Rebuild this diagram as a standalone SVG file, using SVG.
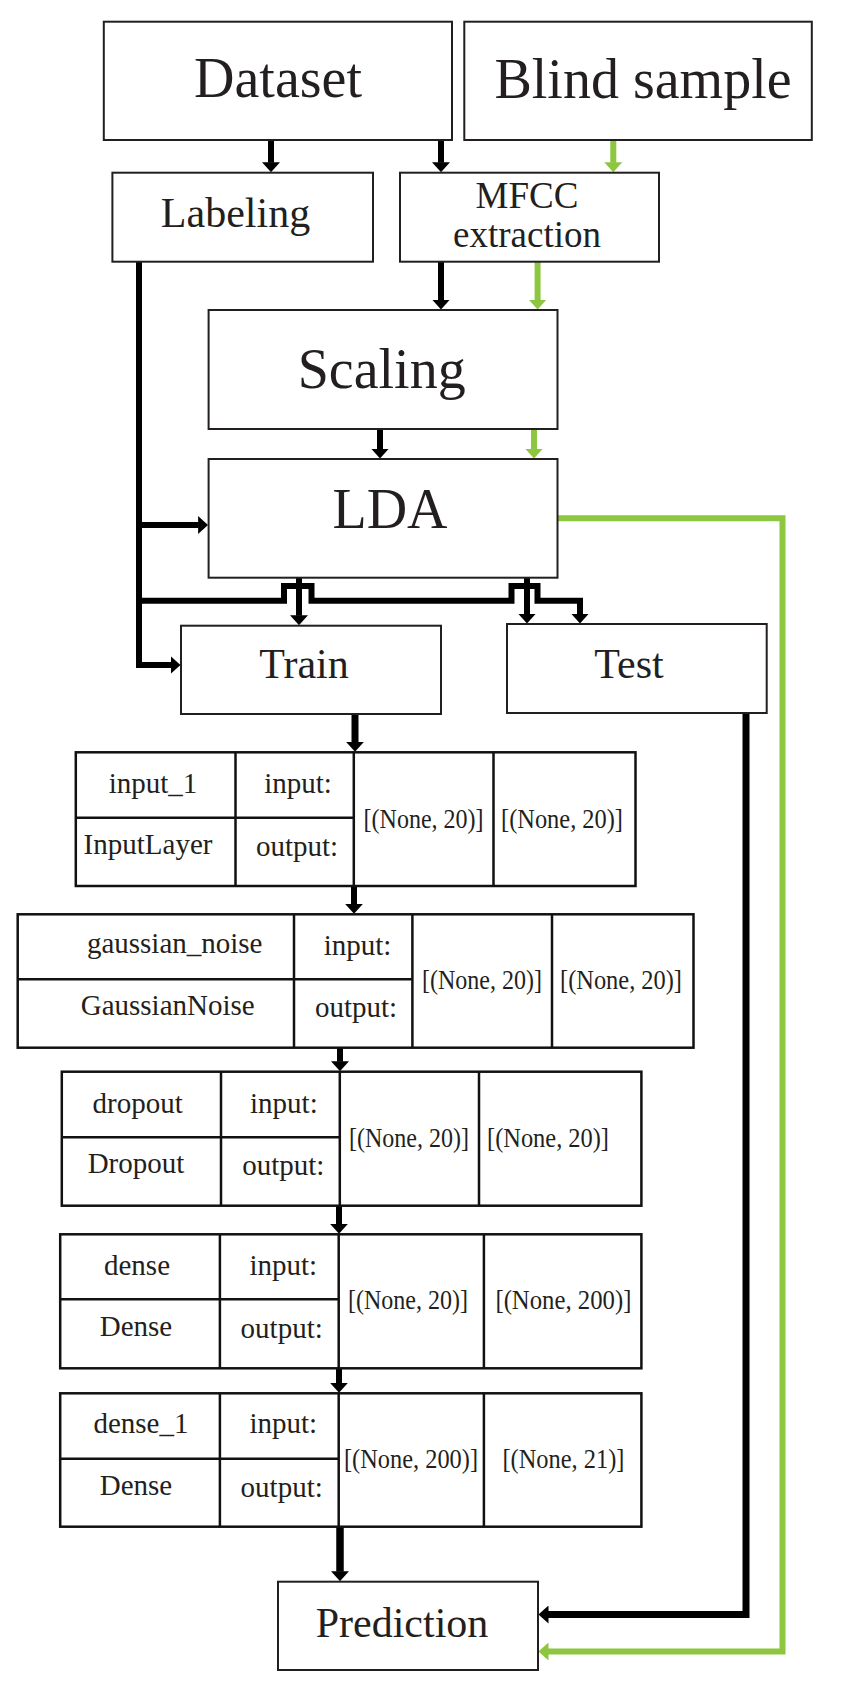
<svg xmlns="http://www.w3.org/2000/svg" width="844" height="1691" viewBox="0 0 844 1691">
<style>
.box{fill:#fff;stroke:#231f20;stroke-width:2}
.tb{fill:#fff;stroke:#111;stroke-width:2.5}
.tl{fill:none;stroke:#111;stroke-width:2.5}
.t{font-family:"Liberation Serif","Times New Roman",serif;fill:#231f20;text-anchor:middle}
.big{font-size:56px}
.mid{font-size:42px}
.mf{font-size:37px}
.s{font-size:29px}
.br{font-size:27px}
.k{fill:none;stroke:#000;stroke-width:6}
.g{fill:none;stroke:#8dc63f;stroke-width:6}
</style>
<defs>
<marker id="ak" viewBox="0 0 10 18" refX="0.5" refY="9" markerWidth="10" markerHeight="18" markerUnits="userSpaceOnUse" orient="auto"><path d="M0,0 L10,9 L0,18 z" fill="#000"/></marker>
<marker id="ag" viewBox="0 0 10 18" refX="0.5" refY="9" markerWidth="10" markerHeight="18" markerUnits="userSpaceOnUse" orient="auto"><path d="M0,0 L10,9 L0,18 z" fill="#8dc63f"/></marker>
</defs>
<rect width="844" height="1691" fill="#fff"/>

<g id="connectors">
<path class="k" d="M271,140 V162.7" marker-end="url(#ak)"/>
<path class="k" d="M441,140 V162.7" marker-end="url(#ak)"/>
<path class="g" d="M613.3,140 V162.7" marker-end="url(#ag)"/>
<path class="k" d="M441,261.7 V300" marker-end="url(#ak)"/>
<path class="g" d="M537.6,261.7 V300" marker-end="url(#ag)"/>
<path class="k" d="M380,429 V449" marker-end="url(#ak)"/>
<path class="g" d="M534,429 V449" marker-end="url(#ag)"/>
<path class="k" d="M139,261.7 V665 H171" marker-end="url(#ak)"/>
<path class="k" d="M139,525 H198.6" marker-end="url(#ak)"/>
<path class="k" d="M139,600.7 H284 V586 H311.5 V600.7 H511.5 V586 H537.5 V600.7 H580 V614" marker-end="url(#ak)"/>
<path class="k" d="M299,577.7 V615.7" marker-end="url(#ak)"/>
<path class="k" d="M527,577.7 V614" marker-end="url(#ak)"/>
<path class="g" d="M557.5,518.3 H782.5 V1651.5 H548" marker-end="url(#ag)"/>
<path class="k" style="stroke-width:7" d="M746,713 V1614.5 H548" marker-end="url(#ak)"/>
<path class="k" style="stroke-width:7" d="M355,714 V742.3" marker-end="url(#ak)"/>
<path class="k" d="M354,886 V904.3" marker-end="url(#ak)"/>
<path class="k" d="M340,1047.7 V1061.7" marker-end="url(#ak)"/>
<path class="k" d="M339,1205.7 V1224.3" marker-end="url(#ak)"/>
<path class="k" d="M339,1368.3 V1383.3" marker-end="url(#ak)"/>
<path class="k" style="stroke-width:7.5" d="M340,1526.7 V1571.7" marker-end="url(#ak)"/>
</g>

<g id="dataset"><rect class="box" x="103.8" y="21.7" width="348.2" height="118.3"/><text class="t big" x="278" y="97">Dataset</text></g>
<g id="blind-sample"><rect class="box" x="464.3" y="21.7" width="347.5" height="118.3"/><text class="t big" x="643" y="98">Blind sample</text></g>
<g id="labeling"><rect class="box" x="112.4" y="172.7" width="260.6" height="89"/><text class="t mid" x="235.5" y="227">Labeling</text></g>
<g id="mfcc"><rect class="box" x="400" y="172.7" width="259" height="89"/><text class="t mf" x="527" y="208">MFCC</text><text class="t mf" x="527" y="247">extraction</text></g>
<g id="scaling"><rect class="box" x="208.6" y="310" width="348.9" height="119"/><text class="t big" x="381.7" y="388">Scaling</text></g>
<g id="lda"><rect class="box" x="208.6" y="459" width="348.9" height="118.7"/><text class="t big" x="390" y="528">LDA</text></g>
<g id="train"><rect class="box" x="181" y="625.7" width="260" height="88.3"/><text class="t mid" x="304" y="678">Train</text></g>
<g id="test"><rect class="box" x="507" y="624" width="259.7" height="89"/><text class="t mid" x="629" y="678">Test</text></g>

<g id="input-1">
<rect class="tb" x="75.8" y="752.3" width="559.7" height="133.7"/>
<path class="tl" d="M235.5,752.3 V886 M353.8,752.3 V886 M493.5,752.3 V886 M75.8,817.7 H353.8"/>
<text class="t s" x="153" y="793">input_1</text>
<text class="t s" x="298" y="793">input:</text>
<text class="t s" x="148" y="854">InputLayer</text>
<text class="t s" x="297" y="856">output:</text>
<text class="t br" x="423.6" y="828" textLength="120" lengthAdjust="spacingAndGlyphs">[(None, 20)]</text>
<text class="t br" x="562" y="828" textLength="122" lengthAdjust="spacingAndGlyphs">[(None, 20)]</text>
</g>

<g id="gaussian-noise">
<rect class="tb" x="17.7" y="914.3" width="675.8" height="133.4"/>
<path class="tl" d="M294,914.3 V1047.7 M412.4,914.3 V1047.7 M552,914.3 V1047.7 M17.7,979.3 H412.4"/>
<text class="t s" x="174.7" y="953">gaussian_noise</text>
<text class="t s" x="357.5" y="955">input:</text>
<text class="t s" x="167.7" y="1015">GaussianNoise</text>
<text class="t s" x="356" y="1017">output:</text>
<text class="t br" x="482" y="989" textLength="120" lengthAdjust="spacingAndGlyphs">[(None, 20)]</text>
<text class="t br" x="621" y="989" textLength="122" lengthAdjust="spacingAndGlyphs">[(None, 20)]</text>
</g>

<g id="dropout">
<rect class="tb" x="61.8" y="1071.7" width="579.6" height="134"/>
<path class="tl" d="M221,1071.7 V1205.7 M339.8,1071.7 V1205.7 M479,1071.7 V1205.7 M61.8,1137.3 H339.8"/>
<text class="t s" x="137.6" y="1113">dropout</text>
<text class="t s" x="283.9" y="1113">input:</text>
<text class="t s" x="136" y="1173">Dropout</text>
<text class="t s" x="283.3" y="1175">output:</text>
<text class="t br" x="409" y="1147" textLength="120" lengthAdjust="spacingAndGlyphs">[(None, 20)]</text>
<text class="t br" x="548" y="1147" textLength="122" lengthAdjust="spacingAndGlyphs">[(None, 20)]</text>
</g>

<g id="dense">
<rect class="tb" x="60.2" y="1234.3" width="581.2" height="134"/>
<path class="tl" d="M219.9,1234.3 V1368.3 M338.7,1234.3 V1368.3 M483.9,1234.3 V1368.3 M60.2,1299.3 H338.7"/>
<text class="t s" x="137" y="1275">dense</text>
<text class="t s" x="283.3" y="1275">input:</text>
<text class="t s" x="136" y="1336">Dense</text>
<text class="t s" x="281.7" y="1338">output:</text>
<text class="t br" x="408" y="1309" textLength="120" lengthAdjust="spacingAndGlyphs">[(None, 20)]</text>
<text class="t br" x="563.4" y="1309" textLength="136" lengthAdjust="spacingAndGlyphs">[(None, 200)]</text>
</g>

<g id="dense-1">
<rect class="tb" x="60.2" y="1393.3" width="581.2" height="133.4"/>
<path class="tl" d="M219.9,1393.3 V1526.7 M338.7,1393.3 V1526.7 M483.9,1393.3 V1526.7 M60.2,1458.7 H338.7"/>
<text class="t s" x="140.9" y="1433">dense_1</text>
<text class="t s" x="283.3" y="1433">input:</text>
<text class="t s" x="136" y="1495">Dense</text>
<text class="t s" x="281.7" y="1497">output:</text>
<text class="t br" x="411" y="1468" textLength="134" lengthAdjust="spacingAndGlyphs">[(None, 200)]</text>
<text class="t br" x="563.4" y="1468" textLength="122" lengthAdjust="spacingAndGlyphs">[(None, 21)]</text>
</g>

<g id="prediction"><rect class="box" x="278" y="1581.7" width="260" height="88.3"/><text class="t mid" x="402" y="1637">Prediction</text></g>
</svg>
